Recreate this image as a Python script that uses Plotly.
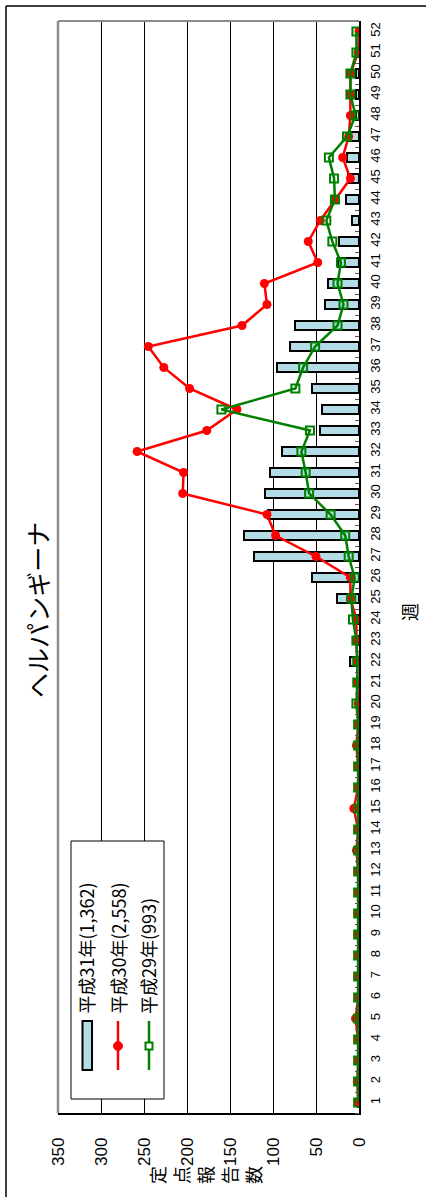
import plotly.graph_objects as go

# ---- data -------------------------------------------------------------
weeks = list(range(1, 53))

# 平成31年 (bars)
h31 = [1, 1, 1, 1, 1, 1, 1, 1, 1, 1, 1, 1, 1, 1, 1, 1, 1, 1, 1, 2,
       2, 10, 3, 6, 26, 55, 122, 134, 106, 109, 103, 89, 45, 43, 55, 95,
       80, 74, 39, 36, 25, 23, 8, 15, 13, 14, 12, 3, 3, 3, 1, 0]

# 平成30年 (red line)
h30 = [1, 2, 1, 1, 4, 1, 1, 1, 1, 1, 1, 1, 3, 1, 6, 1, 1, 3, 1, 1,
       2, 2, 3, 3, 10, 10, 50, 97, 107, 205, 204, 258, 177, 142, 197, 227,
       245, 136, 107, 110, 48, 59, 45, 28, 10, 19, 12, 10, 10, 10, 1, 0]

# 平成29年 (green line)
h29 = [1, 1, 1, 1, 1, 1, 1, 1, 1, 1, 1, 1, 1, 1, 1, 1, 1, 1, 1, 3,
       2, 2, 3, 7, 9, 5, 12, 16, 33, 58, 62, 67, 57, 160, 74, 65,
       51, 25, 18, 25, 21, 31, 38, 28, 29, 35, 14, 4, 10, 10, 3, 3]

series_names = ["平成31年(1,362)", "平成30年(2,558)", "平成29年(993)"]
value_ticks = [0, 50, 100, 150, 200, 250, 300, 350]
title_text = "ヘルパンギーナ"
value_title = "定点報告数"
week_title = "週"

# ---- page geometry (pixels) --------------------------------------------
W, H = 426, 1197
PL, PR, PT, PB = 58, 359, 21, 1113   # plot area edges


def px(x):
    return (x - PL) / (PR - PL)


def py(y):
    return (PB - y) / (PB - PT)


JP = "Noto Sans CJK JP, Noto Sans, sans-serif"
NUM = "Liberation Sans, Noto Sans CJK JP, sans-serif"

fig = go.Figure()

fig.add_trace(go.Bar(
    x=h31, y=weeks, orientation="h", width=0.4,
    marker=dict(color="#B4DCE6", line=dict(color="black", width=2)),
    name=series_names[0], showlegend=False,
))
fig.add_trace(go.Scatter(
    x=h30, y=weeks, mode="lines+markers",
    line=dict(color="#FF0000", width=2.5),
    marker=dict(symbol="circle", size=9, color="#FF0000"),
    name=series_names[1], showlegend=False,
))
fig.add_trace(go.Scatter(
    x=h29, y=weeks, mode="lines+markers",
    line=dict(color="#008000", width=2.5),
    marker=dict(symbol="square-open", size=8, color="#008000",
                line=dict(width=2, color="#008000")),
    name=series_names[2], showlegend=False,
))

fig.update_xaxes(
    range=[350, 0], tickvals=value_ticks, tickangle=-90,
    showgrid=True, gridcolor="black", gridwidth=1,
    showline=True, linecolor="black", linewidth=1.5,
    zeroline=False, ticks="", ticklabelstandoff=16,
    tickfont=dict(family=NUM, size=17, color="black"),
)
fig.update_yaxes(
    range=[0.5, 52.5], tickvals=weeks, tickangle=-90, side="right",
    showgrid=False, showline=True, linecolor="black", linewidth=1.5,
    zeroline=False, ticks="", ticklabelstandoff=4,
    tickfont=dict(family=NUM, size=13, color="black"),
    minor=dict(ticks="inside", ticklen=4, tickcolor="#555",
               tick0=0.5, dtick=1, showgrid=False),
)

shapes = []
# outer chart frame (top and left edges)
shapes.append(dict(type="line", xref="paper", yref="paper",
                   x0=px(6), x1=px(W + 10), y0=py(6), y1=py(6),
                   line=dict(color="black", width=1.5)))
shapes.append(dict(type="line", xref="paper", yref="paper",
                   x0=px(6), x1=px(6), y0=py(6), y1=py(H + 10),
                   line=dict(color="black", width=1.5)))
# plot-area border on the 350 side and the week-52 side
shapes.append(dict(type="line", xref="paper", yref="paper",
                   x0=0, x1=0, y0=0, y1=1,
                   line=dict(color="#8C8C8C", width=2.5)))
shapes.append(dict(type="line", xref="paper", yref="paper",
                   x0=0, x1=1, y0=1, y1=1,
                   line=dict(color="#8C8C8C", width=2)))

# legend box
shapes.append(dict(type="rect", xref="paper", yref="paper", layer="above",
                   x0=px(71), x1=px(164), y0=py(841), y1=py(1099),
                   fillcolor="white", line=dict(color="black", width=1)))
# legend keys
shapes.append(dict(type="rect", xref="paper", yref="paper", layer="above",
                   x0=px(82.5), x1=px(92), y0=py(1021), y1=py(1070),
                   fillcolor="#B4DCE6", line=dict(color="black", width=2)))
shapes.append(dict(type="line", xref="paper", yref="paper", layer="above",
                   x0=px(118), x1=px(118), y0=py(1021), y1=py(1070),
                   line=dict(color="#FF0000", width=2.5)))
shapes.append(dict(type="circle", xref="paper", yref="paper", layer="above",
                   x0=px(113.5), x1=px(122.5), y0=py(1041.5), y1=py(1050.5),
                   fillcolor="#FF0000", line=dict(color="#FF0000", width=1)))
shapes.append(dict(type="line", xref="paper", yref="paper", layer="above",
                   x0=px(149), x1=px(149), y0=py(1021), y1=py(1070),
                   line=dict(color="#008000", width=2.5)))
shapes.append(dict(type="rect", xref="paper", yref="paper", layer="above",
                   x0=px(145.5), x1=px(152.5), y0=py(1042.5), y1=py(1049.5),
                   fillcolor="white", line=dict(color="#008000", width=2)))

annotations = []
# chart title
annotations.append(dict(text=title_text, xref="paper", yref="paper",
                        x=px(37), y=py(610), showarrow=False, textangle=-90,
                        xanchor="center", yanchor="middle",
                        font=dict(family=JP, size=25, color="black")))
# value-axis title: stacked characters, each turned a quarter left
for i, ch in enumerate(value_title):
    annotations.append(dict(text=ch, xref="paper", yref="paper",
                            x=px(157 + 24 * i), y=py(1175), showarrow=False,
                            textangle=-90, xanchor="center", yanchor="middle",
                            font=dict(family=JP, size=18, color="black")))
annotations.append(dict(text=week_title, xref="paper", yref="paper",
                        x=px(409), y=py(612), showarrow=False, textangle=-90,
                        xanchor="center", yanchor="middle",
                        font=dict(family=JP, size=18, color="black")))
# legend labels
for name, cx in zip(series_names, [85, 117, 148]):
    annotations.append(dict(text=name, xref="paper", yref="paper",
                            x=px(cx), y=py(1016), showarrow=False, textangle=-90,
                            xanchor="center", yanchor="bottom",
                            font=dict(family=JP, size=18, color="black")))

fig.update_layout(
    width=W, height=H, autosize=False,
    margin=dict(l=PL, r=W - PR, t=PT, b=H - PB, pad=0),
    paper_bgcolor="white", plot_bgcolor="white",
    showlegend=False, bargap=0,
    shapes=shapes, annotations=annotations,
)

fig.write_html("out.html")
